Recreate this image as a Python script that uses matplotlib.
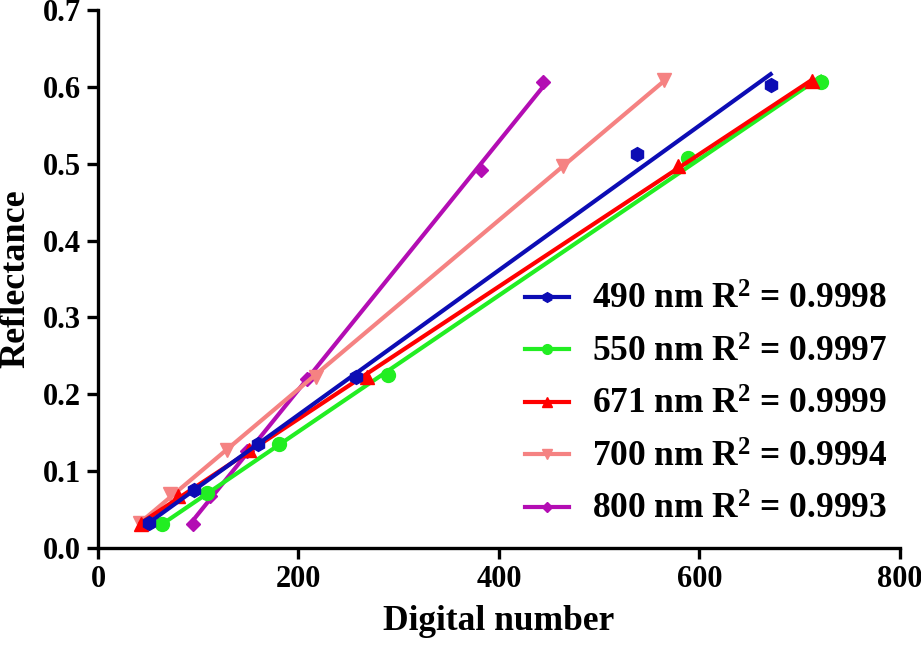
import numpy as np
import matplotlib
matplotlib.use("Agg")
import matplotlib.pyplot as plt

# digital number (x) vs reflectance (y) for each band
dn_490 = [51, 96, 160, 257, 538, 671]
rf_490 = [0.032, 0.076, 0.135, 0.222, 0.512, 0.602]

dn_550 = [64, 109, 181, 289, 589, 721]
rf_550 = [0.031, 0.072, 0.135, 0.225, 0.507, 0.606]

dn_671 = [43, 80, 151, 268, 579, 712]
rf_671 = [0.031, 0.068, 0.127, 0.222, 0.497, 0.608]

dn_700 = [42, 72, 129, 217, 464, 565]
rf_700 = [0.032, 0.070, 0.128, 0.222, 0.497, 0.609]

dn_800 = [95, 112, 149, 208, 382, 444]
rf_800 = [0.031, 0.068, 0.126, 0.220, 0.492, 0.606]

labels = ["490 nm R$^2$ = 0.9998", "550 nm R$^2$ = 0.9997", "671 nm R$^2$ = 0.9999",
          "700 nm R$^2$ = 0.9994", "800 nm R$^2$ = 0.9993"]

plt.rcParams["font.family"] = ["Liberation Serif", "DejaVu Serif"]
plt.rcParams["font.weight"] = "bold"
plt.rcParams["mathtext.fontset"] = "custom"
plt.rcParams["mathtext.rm"] = "Liberation Serif:bold"
plt.rcParams["mathtext.bf"] = "Liberation Serif:bold"
plt.rcParams["mathtext.it"] = "Liberation Serif:bold:italic"

fig = plt.figure(figsize=(9.21, 6.45), dpi=100)
ax = fig.add_axes([0.1064, 0.1504, 0.8708, 0.8341])

series = [
    (dn_490, rf_490, "#0c0cb4", "h", 10, labels[0], 6),
    (dn_550, rf_550, "#22ee22", "o", 10, labels[1], 4),
    (dn_671, rf_671, "#ff0000", "^", 10, labels[2], 5),
    (dn_700, rf_700, "#f58282", "v", 10, labels[3], 3),
    (dn_800, rf_800, "#b30db3", "D", 7, labels[4], 2),
]

for x, y, col, mk, ms, lab, z in series:
    x = np.array(x)
    y = np.array(y)
    k, b = np.polyfit(x, y, 1)
    xs = np.array([x.min(), x.max()])
    ax.plot(x, y, linestyle="none", marker=mk, ms=ms, color=col, zorder=z)
    ax.plot(xs, k * xs + b, color=col, lw=3, zorder=z)
    ax.plot([], [], color=col, lw=3, marker=mk, ms=ms * 0.7, label=lab)

ax.set_xlim(0, 800)
ax.set_ylim(0, 0.7)
ax.set_xticks([0, 200, 400, 600, 800])
ax.set_yticks(np.arange(0, 0.71, 0.1))
ax.yaxis.set_major_formatter(matplotlib.ticker.FormatStrFormatter("%.1f"))
for s in ["top", "right"]:
    ax.spines[s].set_visible(False)
for s in ["left", "bottom"]:
    ax.spines[s].set_linewidth(2.4)
ax.tick_params(width=2.4, length=8, labelsize=22, pad=4)
ax.set_xlabel("Digital number", fontsize=25.5, fontweight="bold", labelpad=8)
ax.set_ylabel("Reflectance", fontsize=26, fontweight="bold", labelpad=8)

ax.legend(loc="lower right", bbox_to_anchor=(1.004, 0.009), frameon=False, fontsize=25.5,
          handlelength=1.25, handletextpad=0.65, labelspacing=0.55, borderaxespad=0.05)

fig.savefig("out.png", dpi=100)
